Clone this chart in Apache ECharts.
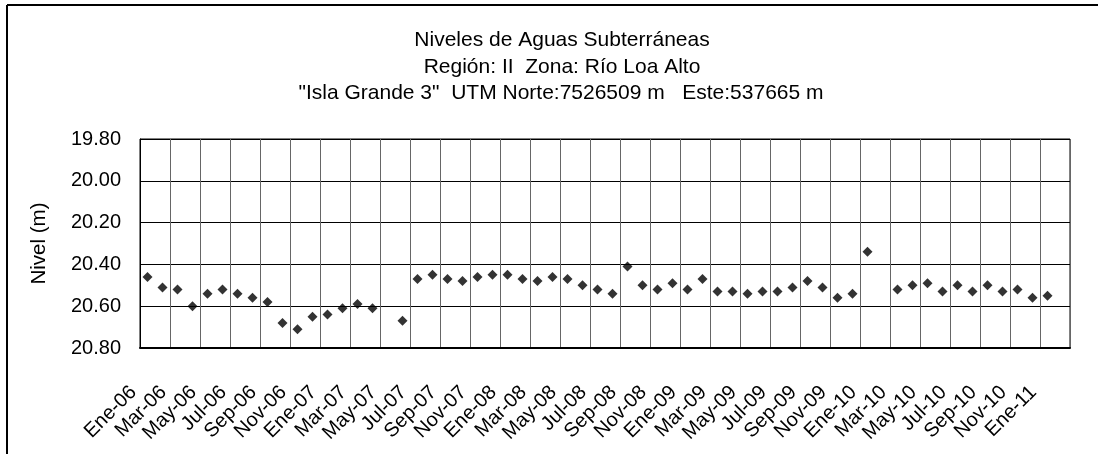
<!DOCTYPE html>
<html>
<head>
<meta charset="utf-8">
<script src="https://cdn.jsdelivr.net/npm/echarts@6/dist/echarts.min.js"></script>
<style>
  html, body { margin: 0; padding: 0; background: #fff; }
  #chart { width: 1098px; height: 454px; }
</style>
</head>
<body>
<div id="chart"></div>
<script>
// meses (eje x), uno por categoria
var meses = [
  'Ene-06','Feb-06','Mar-06','Abr-06','May-06','Jun-06','Jul-06','Ago-06','Sep-06','Oct-06','Nov-06','Dic-06',
  'Ene-07','Feb-07','Mar-07','Abr-07','May-07','Jun-07','Jul-07','Ago-07','Sep-07','Oct-07','Nov-07','Dic-07',
  'Ene-08','Feb-08','Mar-08','Abr-08','May-08','Jun-08','Jul-08','Ago-08','Sep-08','Oct-08','Nov-08','Dic-08',
  'Ene-09','Feb-09','Mar-09','Abr-09','May-09','Jun-09','Jul-09','Ago-09','Sep-09','Oct-09','Nov-09','Dic-09',
  'Ene-10','Feb-10','Mar-10','Abr-10','May-10','Jun-10','Jul-10','Ago-10','Sep-10','Oct-10','Nov-10','Dic-10',
  'Ene-11','Feb-11'
];

// nivel medido (m), '-' = sin medicion
var nivel = [
  20.46, 20.51, 20.52, 20.60, 20.54, 20.52, 20.54, 20.56, 20.58, 20.68, 20.71, 20.65,
  20.64, 20.61, 20.59, 20.61, '-',   20.67, 20.47, 20.45, 20.47, 20.48, 20.46, 20.45,
  20.45, 20.47, 20.48, 20.46, 20.47, 20.50, 20.52, 20.54, 20.41, 20.50, 20.52, 20.49,
  20.52, 20.47, 20.53, 20.53, 20.54, 20.53, 20.53, 20.51, 20.48, 20.51, 20.56, 20.54,
  20.34, '-',   20.52, 20.50, 20.49, 20.53, 20.50, 20.53, 20.50, 20.53, 20.52, 20.56,
  20.55, '-'
];

var titulos = [
  'Niveles de Aguas Subterráneas',
  'Región: II  Zona: Río Loa Alto',
  '"Isla Grande 3"  UTM Norte:7526509 m   Este:537665 m'
];

var fuente = 'Liberation Sans, Arial, sans-serif';

function estiloTitulo() {
  return { fontSize: 21, fontWeight: 'normal', color: '#000', fontFamily: fuente };
}

var option = {
  backgroundColor: '#fff',
  animation: false,
  textStyle: { fontFamily: fuente, color: '#000' },
  title: [
    { text: titulos[0], left: 562, top: 30, padding: 0, textAlign: 'center', textStyle: estiloTitulo() },
    { text: titulos[1], left: 562, top: 57, padding: 0, textAlign: 'center', textStyle: estiloTitulo() },
    { text: titulos[2], left: 561, top: 83, padding: 0, textAlign: 'center', textStyle: estiloTitulo() }
  ],
  // marco exterior del grafico
  graphic: [
    { type: 'line', shape: { x1: 7, y1: 5, x2: 7, y2: 454 }, style: { stroke: '#000', lineWidth: 2 } },
    { type: 'line', shape: { x1: 7, y1: 5, x2: 1098, y2: 5 }, style: { stroke: '#000', lineWidth: 2 } }
  ],
  grid: {
    left: 140, right: 28, top: 139, bottom: 106,
    show: true, borderColor: '#000', borderWidth: 1
  },
  xAxis: {
    type: 'category',
    data: meses,
    boundaryGap: true,
    axisLine: { lineStyle: { color: '#000', width: 2 } },
    axisTick: { interval: 1, length: 4, lineStyle: { color: '#000' } },
    splitLine: { show: true, interval: 1, lineStyle: { color: '#666', width: 1 } },
    axisLabel: {
      interval: 1, rotate: 45, margin: 27, padding: [0, 20, 0, 0],
      fontSize: 20, color: '#000', fontFamily: fuente
    }
  },
  yAxis: {
    type: 'value',
    inverse: true,
    min: 19.8, max: 20.8, interval: 0.2,
    name: 'Nivel (m)',
    nameLocation: 'middle',
    nameGap: 90,
    nameTextStyle: { fontSize: 20.5, color: '#000', fontFamily: fuente },
    axisLine: { show: true, lineStyle: { color: '#000', width: 1 } },
    axisTick: { show: false },
    splitLine: { show: true, lineStyle: { color: '#000', width: 1 } },
    axisLabel: {
      fontSize: 20, color: '#000', margin: 19, fontFamily: fuente,
      formatter: function (v) { return v.toFixed(2); }
    }
  },
  series: [{
    type: 'scatter',
    data: nivel,
    symbol: 'diamond',
    symbolSize: 10,
    itemStyle: { color: '#000' }
  }]
};

var myChart = echarts.init(document.getElementById('chart'));
myChart.setOption(option);
</script>
</body>
</html>
